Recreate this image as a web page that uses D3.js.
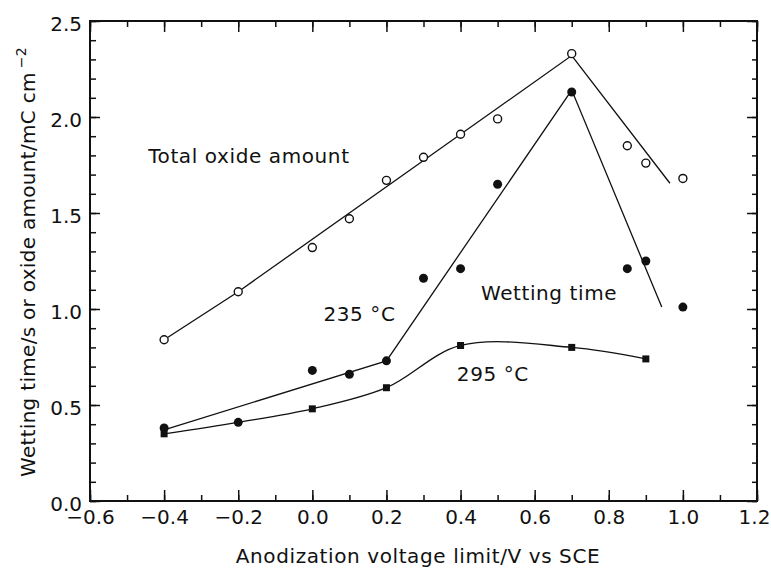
<!DOCTYPE html>
<html>
<head>
<meta charset="utf-8">
<script src="https://cdn.jsdelivr.net/npm/d3@7"></script>
<style>
body { margin: 0; background: #fff; }
text { font-family: "DejaVu Sans", sans-serif; fill: #111; }
</style>
</head>
<body>
<script>
// total oxide amount (open circles)
var totalX = [-0.4, -0.2, 0.0, 0.1, 0.2, 0.3, 0.4, 0.5, 0.7, 0.85, 0.9, 1.0],
    totalY = [0.84, 1.09, 1.32, 1.47, 1.67, 1.79, 1.91, 1.99, 2.33, 1.85, 1.76, 1.68];
var totalFitX = [-0.4, -0.2, 0.7, 0.965],
    totalFitY = [0.84, 1.09, 2.32, 1.655];

// wetting time at 235 C (filled circles)
var wet235X = [-0.4, 0.0, 0.1, 0.2, 0.3, 0.4, 0.5, 0.7, 0.85, 0.9, 1.0],
    wet235Y = [0.38, 0.68, 0.66, 0.73, 1.16, 1.21, 1.65, 2.13, 1.21, 1.25, 1.01];
var wet235FitX = [-0.4, 0.2, 0.7, 0.943],
    wet235FitY = [0.37, 0.73, 2.14, 1.01];

// wetting time at 295 C (squares, one circle)
var wet295X = [-0.4, -0.2, 0.0, 0.2, 0.4, 0.7, 0.9],
    wet295Y = [0.35, 0.41, 0.48, 0.59, 0.81, 0.80, 0.74],
    wet295Shape = ["square", "circle", "square", "square", "square", "square", "square"];

var xMajor = [-0.6, -0.4, -0.2, 0.0, 0.2, 0.4, 0.6, 0.8, 1.0, 1.2],
    yMajor = [0.0, 0.5, 1.0, 1.5, 2.0, 2.5];

var notes = ["Total oxide amount", "235 °C", "Wetting time", "295 °C"],
    noteX = [-0.443, 0.03, 0.455, 0.39],
    noteY = [1.76, 0.94, 1.045, 0.625];

var W = 771, H = 568,
    fmt = d3.format(".1f");

var x = d3.scaleLinear().domain([-0.6, 1.2]).range([90, 757]),
    y = d3.scaleLinear().domain([0, 2.5]).range([501, 21]);

var svg = d3.select("body").append("svg")
    .attr("width", W)
    .attr("height", H);

function ticks(gen, at, values, size, labelled) {
    var g = svg.append("g")
        .attr("transform", at)
        .call(gen.tickValues(values).tickSize(-size).tickPadding(labelled ? 9 : 0)
            .tickFormat(labelled ? fmt : ""));
    g.select(".domain").remove();
    g.attr("font-size", 20).attr("font-family", null);
    g.selectAll("line").attr("stroke", "#111").attr("stroke-width", 1.5);
    return g;
}

var xMinor = x.ticks(18), yMinor = y.ticks(25);

ticks(d3.axisBottom(x), "translate(0,501)", xMinor, 6, false);
ticks(d3.axisBottom(x), "translate(0,501)", xMajor, 11, true)
    .selectAll("text").attr("dx", d => d == 1.2 ? -3 : 0);
ticks(d3.axisTop(x), "translate(0,21)", xMinor, 6, false);
ticks(d3.axisTop(x), "translate(0,21)", xMajor, 11, false);
ticks(d3.axisLeft(y), "translate(90,0)", yMinor, 6, false);
ticks(d3.axisLeft(y), "translate(90,0)", yMajor, 10, true)
    .selectAll("text").attr("dx", 1).attr("dy", "0.47em");
ticks(d3.axisRight(y), "translate(757,0)", yMinor, 5, false);
ticks(d3.axisRight(y), "translate(757,0)", yMajor, 10, false);

svg.append("rect")
    .attr("x", x(-0.6)).attr("y", y(2.5))
    .attr("width", x(1.2) - x(-0.6)).attr("height", y(0) - y(2.5))
    .attr("fill", "none").attr("stroke", "#111").attr("stroke-width", 2);

var line = d3.line().x(d => x(d[0])).y(d => y(d[1]));

svg.append("path").datum(d3.zip(totalFitX, totalFitY))
    .attr("d", line).attr("fill", "none").attr("stroke", "#111").attr("stroke-width", 1.3);
svg.append("path").datum(d3.zip(wet235FitX, wet235FitY))
    .attr("d", line).attr("fill", "none").attr("stroke", "#111").attr("stroke-width", 1.3);
svg.append("path").datum(d3.zip(wet295X, wet295Y))
    .attr("d", line.curve(d3.curveCatmullRom.alpha(0.5))).attr("fill", "none")
    .attr("stroke", "#111").attr("stroke-width", 1.3);

svg.append("g").selectAll("circle")
    .data(d3.zip(totalX, totalY))
  .enter().append("circle")
    .attr("cx", d => x(d[0])).attr("cy", d => y(d[1])).attr("r", 4)
    .attr("fill", "#fff").attr("stroke", "#111").attr("stroke-width", 1.4);

svg.append("g").selectAll("circle")
    .data(d3.zip(wet235X, wet235Y))
  .enter().append("circle")
    .attr("cx", d => x(d[0])).attr("cy", d => y(d[1])).attr("r", 4.5)
    .attr("fill", "#111");

svg.append("g").selectAll("path")
    .data(d3.zip(wet295X, wet295Y, wet295Shape))
  .enter().append("path")
    .attr("transform", d => "translate(" + x(d[0]) + "," + y(d[1]) + ")")
    .attr("d", d => d3.symbol(d[2] == "square" ? d3.symbolSquare : d3.symbolCircle, d[2] == "square" ? 49 : 62)())
    .attr("fill", "#111");

svg.append("g").selectAll("text")
    .data(d3.zip(notes, noteX, noteY))
  .enter().append("text")
    .attr("x", d => x(d[1])).attr("y", d => y(d[2]))
    .attr("font-size", 20).attr("letter-spacing", 0.6)
    .text(d => d[0]);

svg.append("text")
    .attr("x", 418).attr("y", 563)
    .attr("text-anchor", "middle")
    .attr("font-size", 20).attr("letter-spacing", 0.6)
    .text("Anodization voltage limit/V vs SCE");

var ylab = svg.append("text")
    .attr("transform", "translate(35,262) rotate(-90)")
    .attr("text-anchor", "middle")
    .attr("font-size", 20).attr("letter-spacing", 0.3);
ylab.append("tspan").text("Wetting time/s or oxide amount/mC cm");
ylab.append("tspan").attr("dx", 4).attr("dy", -9).attr("font-size", 14).text("\u22122");
</script>
</body>
</html>
